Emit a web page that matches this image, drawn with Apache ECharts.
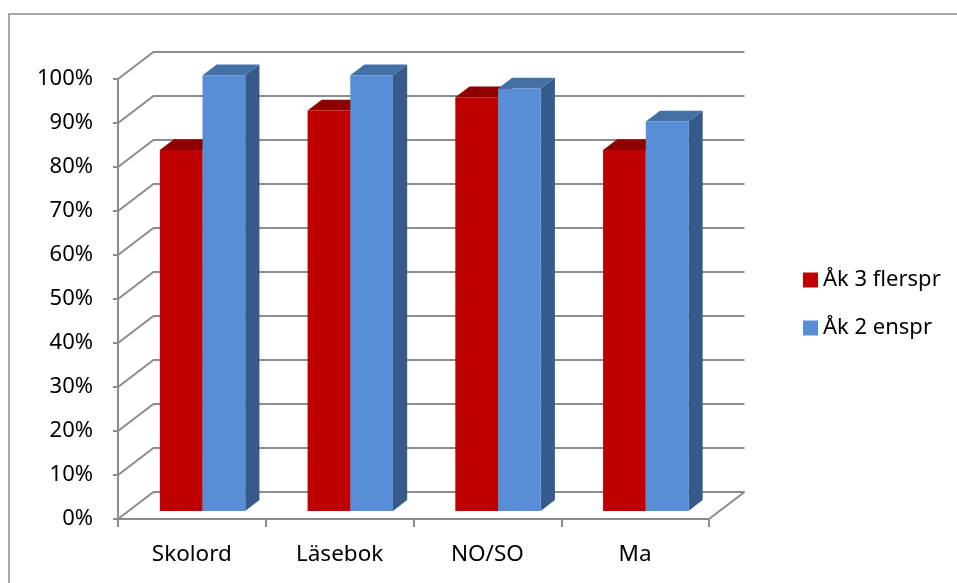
<!DOCTYPE html>
<html>
<head>
<meta charset="utf-8">
<script src="https://cdn.jsdelivr.net/npm/echarts@6/dist/echarts.min.js"></script>
<style>
  html, body { margin: 0; padding: 0; background: #fff; }
  #chart { width: 957px; height: 583px; }
</style>
</head>
<body>
<div id="chart"></div>
<script>
// Chart data
const categories = ['Skolord', 'Läsebok', 'NO/SO', 'Ma'];
const seriesNames = ['Åk 3 flerspr', 'Åk 2 enspr'];
const flersprValues = [82, 91, 94, 82];
const ensprValues = [99, 99, 96, 88.5];
const yTicks = [0, 10, 20, 30, 40, 50, 60, 70, 80, 90, 100];

// Pseudo-3D geometry (pixels for the full floor depth)
const DEPTH_X = 35.5;
const DEPTH_Y = 27;
const BAR_FRONT = 0.3;   // fraction of floor depth where bar front faces sit
const BAR_BACK = 0.7;    // fraction of floor depth where bar back faces sit
const BAR_RATIO = 0.289; // bar width as a fraction of category width

const GRID_COLOR = '#8c8c8c';
const FONT = '"Noto Sans", sans-serif';

const chart = echarts.init(document.getElementById('chart'), null, { renderer: 'canvas' });

// Walls: diagonal on the side wall + horizontal line on the back wall for each tick
function renderWalls(params, api) {
  const cs = params.coordSys;
  const v = api.value(0);
  const y = api.coord([0, v])[1];
  const x0 = cs.x;
  const x1 = cs.x + cs.width;
  const children = [{
    type: 'polyline',
    shape: { points: [[x0, y], [x0 + DEPTH_X, y - DEPTH_Y], [x1 + DEPTH_X, y - DEPTH_Y]] },
    style: { stroke: GRID_COLOR, lineWidth: 2, fill: null }
  }];
  if (v === 0) {
    children.push({
      type: 'line',
      shape: { x1: x1, y1: y, x2: x1 + DEPTH_X, y2: y - DEPTH_Y },
      style: { stroke: GRID_COLOR, lineWidth: 2 }
    });
  }
  return { type: 'group', children: children };
}

// Box-shaped bar: front face, side face and top face
function makeBarRenderer(slot, colors) {
  return function (params, api) {
    const idx = api.value(0);
    const val = api.value(1);
    const base = api.coord([idx, 0]);
    const top = api.coord([idx, val]);
    const catW = api.size([1, 0])[0];
    const bw = catW * BAR_RATIO;
    const sx = BAR_FRONT * DEPTH_X;
    const sy = BAR_FRONT * DEPTH_Y;
    const dx = (BAR_BACK - BAR_FRONT) * DEPTH_X;
    const dy = (BAR_BACK - BAR_FRONT) * DEPTH_Y;
    const left = base[0] + sx + (slot === 0 ? -bw : 0);
    const right = left + bw;
    const yb = base[1] - sy;
    const yt = top[1] - sy;
    return {
      type: 'group',
      children: [
        {
          type: 'polygon',
          shape: { points: [[right, yb], [right + dx, yb - dy], [right + dx, yt - dy], [right, yt]] },
          style: { fill: colors.side }
        },
        {
          type: 'polygon',
          shape: { points: [[left, yt], [left + dx, yt - dy], [right + dx, yt - dy], [right, yt]] },
          style: { fill: colors.top }
        },
        {
          type: 'rect',
          shape: { x: left, y: yt, width: bw, height: yb - yt },
          style: { fill: colors.front }
        }
      ]
    };
  };
}

const redColors = { front: '#c00000', side: '#900000', top: '#8e0000' };
const blueColors = { front: '#588ed6', side: '#365b8a', top: '#4470a8' };

const option = {
  backgroundColor: '#ffffff',
  animation: false,
  graphic: [{
    type: 'rect',
    shape: { x: 9, y: 14, width: 1000, height: 600 },
    style: { fill: null, stroke: '#8a8a8a', lineWidth: 1.5 },
    silent: true,
    z: 0
  }],
  grid: { left: 118, right: 248, top: 79, bottom: 64 },
  legend: {
    orient: 'vertical',
    left: 798,
    top: 264,
    itemWidth: 15,
    itemHeight: 15,
    itemGap: 26,
    icon: 'rect',
    data: seriesNames,
    textStyle: { fontFamily: FONT, fontSize: 22, color: '#000', lineHeight: 22, padding: [0, 0, 0, 0] },
    selectedMode: false
  },
  xAxis: {
    type: 'category',
    data: categories,
    boundaryGap: true,
    axisLine: { show: true, lineStyle: { color: GRID_COLOR, width: 2 } },
    axisTick: { show: true, length: 8, lineStyle: { color: GRID_COLOR, width: 2 } },
    axisLabel: { fontFamily: FONT, fontSize: 22.5, color: '#000', margin: 24 },
    splitLine: { show: false }
  },
  yAxis: {
    type: 'value',
    min: 0,
    max: 100,
    interval: 10,
    axisLine: { show: true, lineStyle: { color: GRID_COLOR, width: 2 } },
    axisTick: { show: true, length: 5, lineStyle: { color: GRID_COLOR, width: 2 } },
    axisLabel: { fontFamily: FONT, fontSize: 22, color: '#000', margin: 25, formatter: '{value}%' },
    splitLine: { show: false }
  },
  series: [
    {
      name: 'walls',
      type: 'custom',
      renderItem: renderWalls,
      data: yTicks.map(v => [v]),
      encode: { y: 0 },
      silent: true,
      z: 1
    },
    {
      name: seriesNames[0],
      type: 'custom',
      renderItem: makeBarRenderer(0, redColors),
      itemStyle: { color: redColors.front },
      data: flersprValues.map((v, i) => [i, v]),
      encode: { x: 0, y: 1 },
      z: 2
    },
    {
      name: seriesNames[1],
      type: 'custom',
      renderItem: makeBarRenderer(1, blueColors),
      itemStyle: { color: blueColors.front },
      data: ensprValues.map((v, i) => [i, v]),
      encode: { x: 0, y: 1 },
      z: 3
    }
  ]
};

chart.setOption(option);
</script>
</body>
</html>
